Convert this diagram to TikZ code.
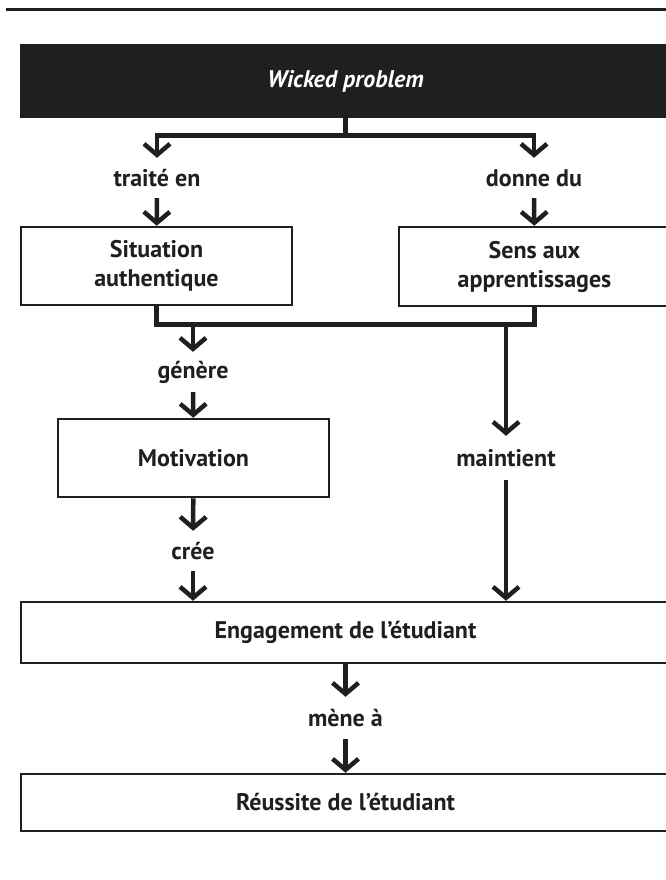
\documentclass[tikz,border=0pt]{standalone}
\usepackage{fontspec}
\setmainfont{PT Sans}
\usetikzlibrary{arrows.meta}
\definecolor{ink}{HTML}{1F1F1F}
\begin{document}
\begin{tikzpicture}[x=1pt, y=1pt,
    box/.style={draw=ink, line width=2.5pt, fill=white, inner sep=0pt,
      align=center, font=\fontsize{24}{29}\selectfont\bfseries, text=ink},
    lbl/.style={inner sep=0pt, minimum height=40pt,
      font=\fontsize{24}{29}\selectfont\bfseries, text=ink},
    link/.style={draw=ink, line width=4.5pt},
    arrow/.style={link, -{Straight Barb[length=11pt, width=26pt]}}]
    % Page frame (the right side is cut off)
    \useasboundingbox (0,0) rectangle (666,-880);
    \clip (0,0) rectangle (666,-880);
    \draw[ink, line width=3pt] (6,-10) -- (670,-10);
    % Boxes
    \node[box, fill=ink, text=white, minimum width=649pt, minimum height=72pt,
      font=\fontsize{24}{29}\selectfont\bfseries\itshape] (wp) at (345.5,-81) {Wicked problem};
    \node[box, minimum width=271pt, minimum height=78pt] (sit) at (156.5,-266) {Situation\\authentique};
    \node[box, minimum width=271pt, minimum height=79pt] (sens) at (534.5,-266.5) {Sens aux\\apprentissages};
    \node[box, minimum width=271pt, minimum height=78pt] (mot) at (193.5,-458) {Motivation};
    \node[box, minimum width=649pt, minimum height=61pt] (eng) at (345.5,-632.5) {Engagement de l’étudiant};
    \node[box, minimum width=649pt, minimum height=57pt] (reu) at (345.5,-802.5) {Réussite de l’étudiant};
    % Link labels
    \node[lbl] (traite) at (157,-178) {traité en};
    \node[lbl] (donne) at (534,-178) {donne du};
    \node[lbl] (genere) at (193,-372) {génère};
    \node[lbl, minimum height=44pt] (maintient) at (506,-458) {maintient};
    \node[lbl] (cree) at (193,-551) {crée};
    \node[lbl, minimum height=42pt] (mene) at (345.5,-718) {mène à};
    % Wicked problem splits in two
    \draw[link] (wp.south) -- ++(0,-17) coordinate (split);
    \draw[arrow] (split) -| (traite.north);
    \draw[arrow] (split) -| (donne.north);
    \draw[arrow] (traite) -- (sit);
    \draw[arrow] (donne) -- (sens);
    % Both boxes join below
    \draw[link] (sit.south) -- ++(0,-18) coordinate (join) -| (sens.south);
    \draw[arrow] (join -| genere) -- (genere);
    \draw[arrow] (join -| maintient) -- (maintient);
    \draw[arrow] (genere) -- (mot);
    \draw[arrow] (mot) -- (cree);
    \draw[arrow] (cree) -- (eng.north -| cree);
    \draw[arrow] (maintient) -- (eng.north -| maintient);
    % Engagement to success
    \draw[arrow] (eng) -- (mene);
    \draw[arrow] (mene) -- (reu);
\end{tikzpicture}
\end{document}
